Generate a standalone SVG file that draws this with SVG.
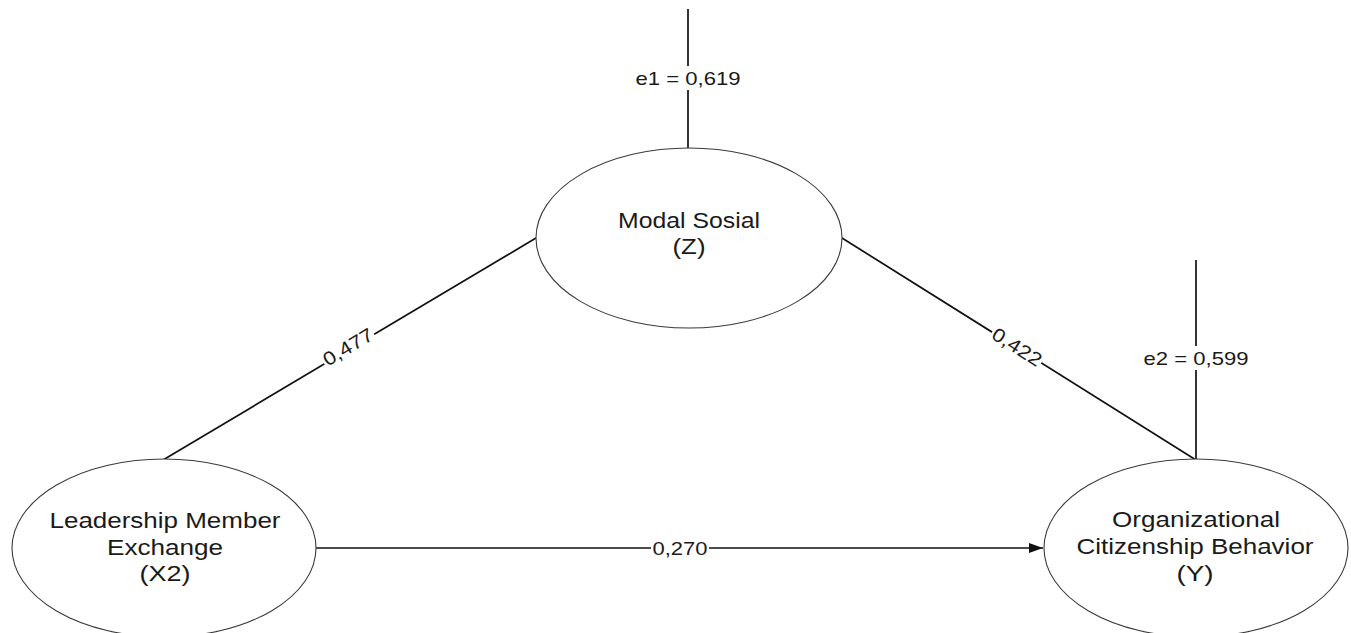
<svg xmlns="http://www.w3.org/2000/svg" width="1351" height="633" viewBox="0 0 1351 633">
  <defs>
    <style>
      .node { fill: #ffffff; stroke: #3a3a3a; stroke-width: 1.1; }
      .edge { stroke: #111111; stroke-width: 1.7; fill: none; }
      .nt { font-family: "Liberation Sans", Arial, sans-serif; font-size: 22px; fill: #1a1a1a; text-anchor: middle; }
      .lt { font-family: "Liberation Sans", Arial, sans-serif; font-size: 19px; fill: #1a1a1a; text-anchor: middle; }
      .bg { fill: #ffffff; stroke: none; }
    </style>
    <marker id="arrow" viewBox="0 0 14 10" refX="14" refY="5" markerWidth="14" markerHeight="10" markerUnits="userSpaceOnUse" orient="auto">
      <path d="M0,0 L14,5 L0,10 Z" fill="#111111"/>
    </marker>
  </defs>
  <rect x="0" y="0" width="1351" height="633" fill="#ffffff"/>

  <g id="connectors">
    <line class="edge" x1="163" y1="460" x2="536" y2="238"/>
    <line class="edge" x1="842" y1="238" x2="1196" y2="460"/>
    <line class="edge" x1="316" y1="548" x2="1043" y2="548" marker-end="url(#arrow)"/>
    <line class="edge" x1="688" y1="9" x2="688" y2="148"/>
    <line class="edge" x1="1196" y1="260" x2="1196" y2="460"/>

    <g transform="translate(348,347) rotate(-30.9)">
      <rect class="bg" x="-29" y="-10" width="58" height="20"/>
      <text class="lt" x="0" y="6.5" textLength="55" lengthAdjust="spacingAndGlyphs">0,477</text>
    </g>
    <g transform="translate(1017,347) rotate(32.2)">
      <rect class="bg" x="-29" y="-10" width="58" height="20"/>
      <text class="lt" x="0" y="6.5" textLength="55" lengthAdjust="spacingAndGlyphs">0,422</text>
    </g>
    <rect class="bg" x="651" y="538" width="58" height="20"/>
    <text class="lt" x="680" y="554.5" textLength="55" lengthAdjust="spacingAndGlyphs">0,270</text>

    <rect class="bg" x="633" y="66" width="110" height="24"/>
    <text class="lt" x="688" y="85" textLength="105" lengthAdjust="spacingAndGlyphs">e1 = 0,619</text>
    <rect class="bg" x="1141" y="346" width="110" height="24"/>
    <text class="lt" x="1196" y="365" textLength="105" lengthAdjust="spacingAndGlyphs">e2 = 0,599</text>
  </g>

  <g id="node-z">
    <ellipse class="node" cx="689" cy="238" rx="153" ry="90"/>
    <text class="nt" x="689" y="228" textLength="142" lengthAdjust="spacingAndGlyphs">Modal Sosial</text>
    <text class="nt" x="689" y="254" textLength="33" lengthAdjust="spacingAndGlyphs">(Z)</text>
  </g>

  <g id="node-x2">
    <ellipse class="node" cx="164" cy="548" rx="152" ry="89"/>
    <text class="nt" x="165" y="528" textLength="231" lengthAdjust="spacingAndGlyphs">Leadership Member</text>
    <text class="nt" x="165" y="555" textLength="116" lengthAdjust="spacingAndGlyphs">Exchange</text>
    <text class="nt" x="165" y="581" textLength="51" lengthAdjust="spacingAndGlyphs">(X2)</text>
  </g>

  <g id="node-y">
    <ellipse class="node" cx="1196" cy="548" rx="152" ry="89"/>
    <text class="nt" x="1196" y="527" textLength="168" lengthAdjust="spacingAndGlyphs">Organizational</text>
    <text class="nt" x="1195" y="554" textLength="237" lengthAdjust="spacingAndGlyphs">Citizenship Behavior</text>
    <text class="nt" x="1195" y="581" textLength="37" lengthAdjust="spacingAndGlyphs">(Y)</text>
  </g>
</svg>
